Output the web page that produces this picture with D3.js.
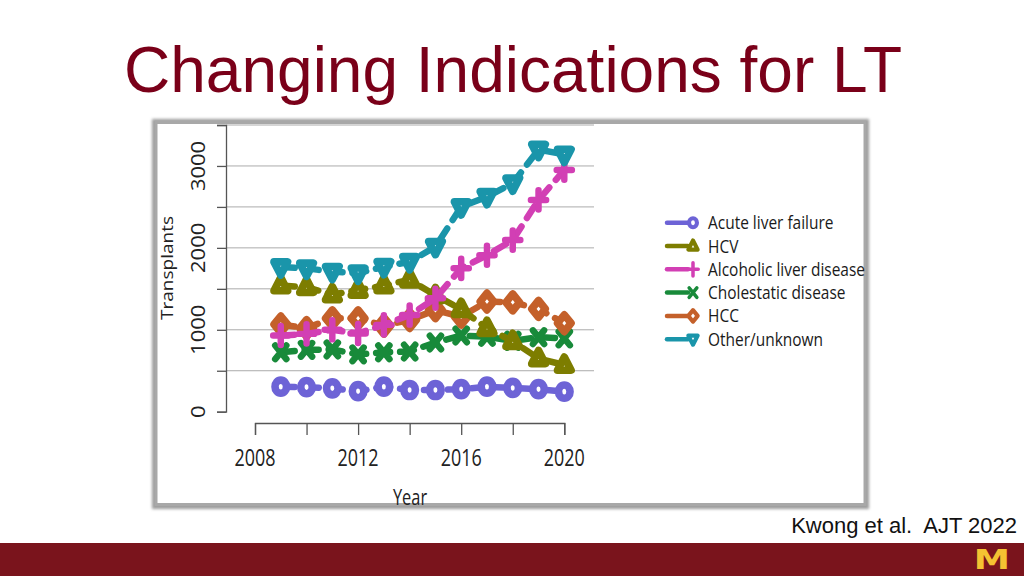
<!DOCTYPE html>
<html>
<head>
<meta charset="utf-8">
<script src="https://cdn.jsdelivr.net/npm/d3@7"></script>
<style>
  html, body { margin: 0; padding: 0; background: #ffffff; }
  svg { display: block; }
</style>
</head>
<body>
<svg id="chart" width="1024" height="576"></svg>
<script>
// ---------------- data ----------------
const years = [2009, 2010, 2011, 2012, 2013, 2014, 2015, 2016, 2017, 2018, 2019, 2020];
const seriesNames = ["Acute liver failure", "HCV", "Alcoholic liver disease", "Cholestatic disease", "HCC", "Other/unknown"];
const acuteLiverFailure = [305, 300, 285, 250, 305, 265, 265, 275, 305, 290, 275, 245];
const hcv = [1540, 1520, 1430, 1485, 1540, 1610, 1420, 1250, 1020, 860, 650, 570];
const alcoholicLiverDisease = [930, 950, 1000, 955, 1060, 1180, 1385, 1750, 1910, 2095, 2585, 2950];
const cholestaticDisease = [725, 755, 760, 700, 725, 735, 845, 930, 915, 865, 910, 895];
const hccValues = [1065, 1020, 1140, 1140, 1050, 1120, 1240, 1160, 1345, 1335, 1255, 1080];
const otherUnknown = [1765, 1750, 1710, 1690, 1770, 1830, 2015, 2500, 2625, 2790, 3200, 3140];
const seriesColors = ["#6d63d6", "#7d7d00", "#d23fb4", "#188a3a", "#c4602a", "#1a95aa"];
const seriesShapes = ["circle", "triangleUp", "plus", "cross", "diamond", "triangleDown"];
const yTickValues = [0, 500, 1000, 1500, 2000, 2500, 3000, 3500];
const yTickLabels = ["0", "", "1000", "", "2000", "", "3000", ""];
const xTickValues = [2008, 2010, 2012, 2014, 2016, 2018, 2020];
const xTickLabels = ["2008", "", "2012", "", "2016", "", "2020"];
const titleText = "Changing Indications for LT";
const yAxisTitle = "Transplants";
const xAxisTitle = "Year";
const citation = "Kwong et al.  AJT 2022";

const allValues = [acuteLiverFailure, hcv, alcoholicLiverDisease, cholestaticDisease, hccValues, otherUnknown];

// ---------------- drawing ----------------
const svg = d3.select("#chart");
const SX = 0.78; // horizontal squish of the embedded chart image

// title
svg.append("text")
  .attr("x", 513).attr("y", 92)
  .attr("text-anchor", "middle")
  .attr("font-family", "'Liberation Sans', Arial, sans-serif")
  .attr("font-size", 64)
  .attr("fill", "#7a0019")
  .text(titleText);

// frame shadow + frame
const defs = svg.append("defs");
const f = defs.append("filter").attr("id", "blur").attr("x", "-5%").attr("y", "-5%").attr("width", "110%").attr("height", "110%");
f.append("feGaussianBlur").attr("stdDeviation", 1.5);
svg.append("rect")
  .attr("x", 155).attr("y", 122).attr("width", 711).attr("height", 384)
  .attr("fill", "none").attr("stroke", "#9c9c9c").attr("stroke-width", 6)
  .attr("filter", "url(#blur)");
svg.append("rect")
  .attr("x", 156).attr("y", 122.5).attr("width", 709).attr("height", 382)
  .attr("fill", "#ffffff").attr("stroke", "#a8a8a8").attr("stroke-width", 3);

// scales
const x = d3.scaleLinear().domain([2008, 2020]).range([255, 564.3]);
const y = d3.scaleLinear().domain([0, 3500]).range([411.7, 125]);

// gridlines
const g = svg.append("g");
g.selectAll("line.grid").data(yTickValues.filter(v => v > 0)).join("line")
  .attr("x1", 226).attr("x2", 594)
  .attr("y1", d => y(d)).attr("y2", d => y(d))
  .attr("stroke", "#ababab").attr("stroke-width", 1);

// y axis
const yAxis = d3.axisLeft(y).tickValues(yTickValues).tickSize(9).tickFormat(() => "");
const yg = svg.append("g").attr("transform", "translate(226,0)").call(yAxis);
yg.select(".domain").attr("stroke", "#555").attr("stroke-width", 1.3);
yg.selectAll(".tick line").attr("stroke", "#555").attr("stroke-width", 1.3);
svg.append("g").selectAll("text").data(yTickValues.map((v, i) => ({v, l: yTickLabels[i]})).filter(d => d.l)).join("text")
  .attr("transform", d => `translate(205,${y(d.v)}) scale(0.9,1) rotate(-90)`)
  .attr("text-anchor", "middle")
  .attr("font-family", "'Open Sans', sans-serif")
  .attr("font-size", 22)
  .attr("fill", "#222")
  .text(d => d.l);

// y title
svg.append("text")
  .attr("transform", `translate(173,268) scale(0.85,1) rotate(-90)`)
  .attr("text-anchor", "middle")
  .attr("font-family", "'Open Sans', sans-serif")
  .attr("font-size", 19)
  .attr("fill", "#222")
  .text(yAxisTitle);

// x axis
const xAxis = d3.axisBottom(x).tickValues(xTickValues).tickSize(12).tickFormat(() => "");
const xg = svg.append("g").attr("transform", "translate(0,423)").call(xAxis);
xg.select(".domain").attr("stroke", "#555").attr("stroke-width", 1.3);
xg.selectAll(".tick line").attr("stroke", "#555").attr("stroke-width", 1.3);
svg.append("g").selectAll("text").data(xTickValues.map((v, i) => ({v, l: xTickLabels[i]})).filter(d => d.l)).join("text")
  .attr("transform", d => `translate(${x(d.v)},466) scale(${SX},1)`)
  .attr("text-anchor", "middle")
  .attr("font-family", "'Open Sans', sans-serif")
  .attr("font-size", 23)
  .attr("fill", "#222")
  .text(d => d.l);

svg.append("text")
  .attr("transform", `translate(410,505) scale(${SX},1)`)
  .attr("text-anchor", "middle")
  .attr("font-family", "'Open Sans', sans-serif")
  .attr("font-size", 21)
  .attr("fill", "#222")
  .text(xAxisTitle);

// marker helper
function drawMarker(sel, shape, color, s, swf) {
  // s = half-size, swf = stroke width factor
  const sw = s * swf;
  if (shape === "circle") {
    sel.append("ellipse").attr("rx", s * 0.72).attr("ry", s * 0.82)
      .attr("fill", "#fff").attr("stroke", color).attr("stroke-width", sw);
  } else if (shape === "triangleUp") {
    const h = s * 1.0;
    sel.append("path").attr("d", `M0,${-h} L${s * 0.85},${h * 0.65} L${-s * 0.85},${h * 0.65} Z`)
      .attr("fill", "#fff").attr("stroke", color).attr("stroke-width", sw).attr("stroke-linejoin", "round");
  } else if (shape === "triangleDown") {
    const h = s * 1.0;
    sel.append("path").attr("d", `M0,${h} L${s * 0.85},${-h * 0.65} L${-s * 0.85},${-h * 0.65} Z`)
      .attr("fill", "#fff").attr("stroke", color).attr("stroke-width", sw).attr("stroke-linejoin", "round");
  } else if (shape === "diamond") {
    sel.append("path").attr("d", `M0,${-s * 1.05} L${s * 0.85},0 L0,${s * 1.05} L${-s * 0.85},0 Z`)
      .attr("fill", "#fff").attr("stroke", color).attr("stroke-width", sw).attr("stroke-linejoin", "round");
  } else if (shape === "plus") {
    sel.append("path").attr("d", `M0,${-s * 1.2} L0,${s * 1.2} M${-s * 0.95},0 L${s * 0.95},0`)
      .attr("fill", "none").attr("stroke", color).attr("stroke-width", sw * 0.85).attr("stroke-linecap", "round");
  } else if (shape === "cross") {
    sel.append("path").attr("d", `M${-s * 0.7},${-s * 0.85} L${s * 0.7},${s * 0.85} M${s * 0.7},${-s * 0.85} L${-s * 0.7},${s * 0.85}`)
      .attr("fill", "none").attr("stroke", color).attr("stroke-width", sw * 0.85).attr("stroke-linecap", "round");
  }
}

// lines
const line = d3.line().x((d, i) => x(years[i])).y(d => y(d));
const drawOrder = [0, 3, 4, 1, 2, 5];
const plot = svg.append("g");
drawOrder.forEach(si => {
  const vals = allValues[si];
  const color = seriesColors[si];
  plot.append("path")
    .datum(vals)
    .attr("d", line)
    .attr("fill", "none")
    .attr("stroke", color)
    .attr("stroke-width", 6.5)
    .attr("stroke-linecap", "round")
    .attr("stroke-linejoin", "round")
    .attr("stroke-dasharray", "14,10");
  vals.forEach((v, i) => {
    const m = plot.append("g").attr("transform", `translate(${x(years[i])},${y(v)})`);
    drawMarker(m, seriesShapes[si], color, 8, 0.95);
  });
});

// legend
const legend = svg.append("g");
seriesNames.forEach((name, i) => {
  const ly = 222.7 + i * 23.3;
  const color = seriesColors[i];
  legend.append("line")
    .attr("x1", 667).attr("x2", 688).attr("y1", ly).attr("y2", ly)
    .attr("stroke", color).attr("stroke-width", 4.5).attr("stroke-linecap", "round");
  const m = legend.append("g").attr("transform", `translate(693,${ly})`);
  drawMarker(m, seriesShapes[i], color, 5.5, 0.75);
  legend.append("text")
    .attr("transform", `translate(708,${ly + 6.5}) scale(0.86,1)`)
    .attr("font-family", "'Open Sans', sans-serif")
    .attr("font-size", 18)
    .attr("fill", "#1a1a1a")
    .text(name);
});

// citation
svg.append("text")
  .attr("x", 1017).attr("y", 533)
  .attr("text-anchor", "end")
  .attr("xml:space", "preserve")
  .style("white-space", "pre")
  .attr("font-family", "'Liberation Sans', Arial, sans-serif")
  .attr("font-size", 22)
  .attr("fill", "#111")
  .text(citation);

// footer bar
svg.append("rect").attr("x", 0).attr("y", 543).attr("width", 1024).attr("height", 33).attr("fill", "#7a141c");
svg.append("text")
  .attr("transform", "translate(992,569) scale(1.35,1)")
  .attr("text-anchor", "middle")
  .attr("font-family", "'DejaVu Sans', sans-serif")
  .attr("font-weight", "bold")
  .attr("font-size", 27)
  .attr("fill", "#f5c232")
  .text("M");
</script>
</body>
</html>
